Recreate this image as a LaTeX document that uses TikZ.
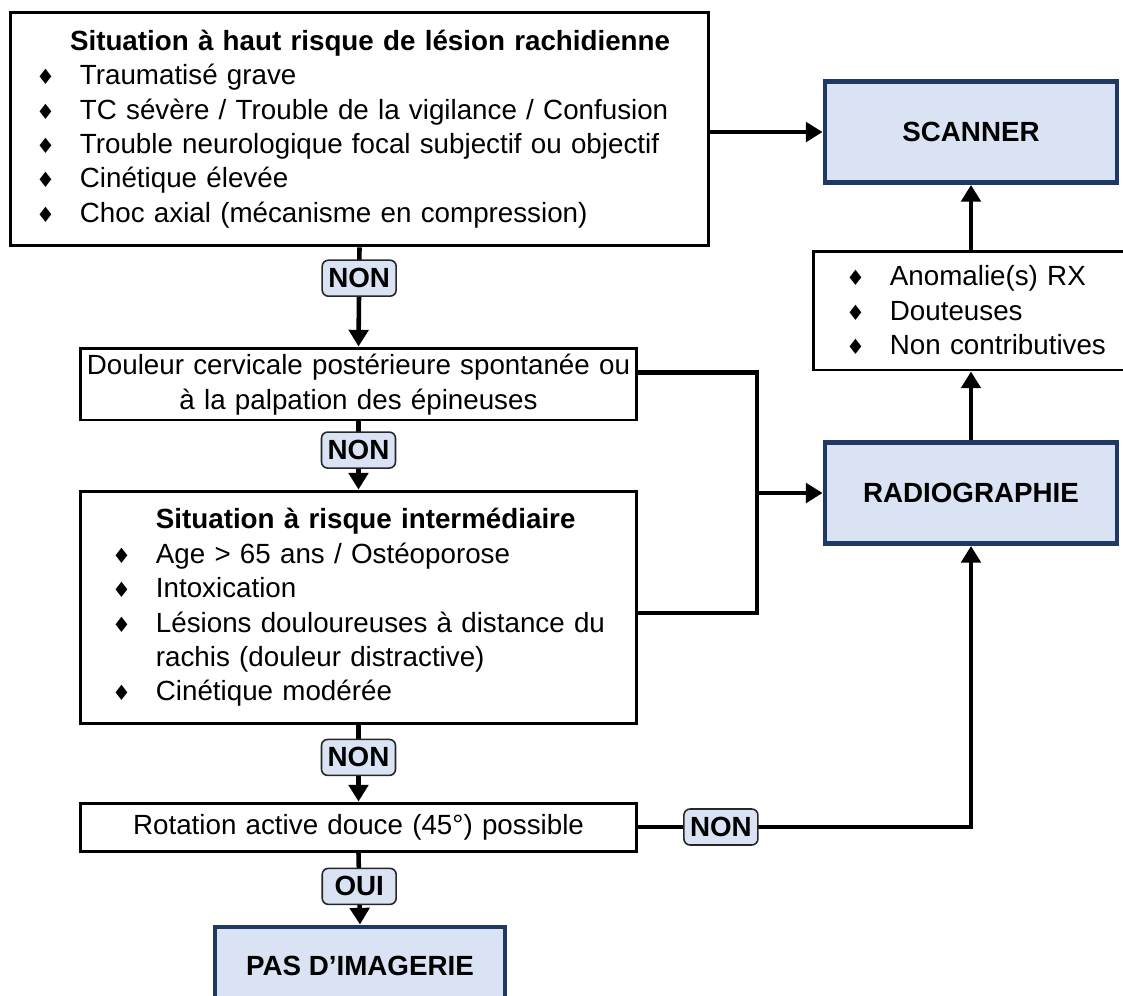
\documentclass[tikz,border=0pt]{standalone}
\usepackage{fontspec}
\setmainfont{Liberation Sans}
\newfontfamily\puces{DejaVu Sans}
\usetikzlibrary{arrows.meta,positioning}

\definecolor{bleuclair}{HTML}{DAE3F3}
\definecolor{bleufonce}{HTML}{203864}

\newcommand{\texte}{\fontsize{15.8}{19.6}\selectfont}
\newcommand{\puce}{\makebox[1.58em][l]{{\puces\fontsize{12}{12}\selectfont ♦}}}

\begin{document}
\begin{tikzpicture}[x=0.02cm, y=-0.02cm,
  every node/.style={font=\texte},
  boite/.style={draw, line width=1.7pt, fill=white, inner xsep=0pt, inner ysep=0pt},
  bleue/.style={draw=bleufonce, line width=2.8pt, fill=bleuclair, font=\texte\bfseries,
    minimum width=5.84cm, minimum height=2.02cm},
  etiq/.style={draw=black!85, line width=0.9pt, fill=bleuclair, rounded corners=3.5pt,
    font=\texte\bfseries, minimum width=1.48cm, minimum height=0.72cm, inner sep=0pt},
  fleche/.style={line width=2.6pt, -{Triangle[length=9.5pt,width=11pt]}},
  ligne/.style={line width=2.6pt}]

  \useasboundingbox (0,0) rectangle (1123,995);
  \clip (0,0) rectangle (1123,995);

  %% Left column
  \node[boite, minimum width=13.98cm, minimum height=4.68cm, text width=13.98cm, align=left] (haut) at (359.5,129)
    {\leftskip=0.52cm\hspace*{0.68cm}\textbf{Situation à haut risque de lésion rachidienne}\\
     \puce Traumatisé grave\\
     \puce TC sévère / Trouble de la vigilance / Confusion\\
     \puce Trouble neurologique focal subjectif ou objectif\\
     \puce Cinétique élevée\\
     \puce Choc axial (mécanisme en compression)\par};

  \node[boite, minimum width=11.14cm, minimum height=1.44cm, text width=11.14cm, align=center] (douleur) at (358.5,384)
    {Douleur cervicale postérieure spontanée ou\\ à la palpation des épineuses\\[-17pt]\mbox{}};

  \node[boite, minimum width=11.14cm, minimum height=4.66cm, text width=11.14cm, align=left] (inter) at (358.5,607.5)
    {\leftskip=0.64cm\hspace*{1.58em}\textbf{Situation à risque intermédiaire}\\
     \puce Age > 65 ans / Ostéoporose\\
     \puce Intoxication\\
     \mbox{\puce Lésions douloureuses à distance du}\\
     \hspace*{1.58em}rachis (douleur distractive)\\
     \puce Cinétique modérée\par};

  \node[boite, minimum width=11.14cm, minimum height=0.96cm, text width=11.14cm, align=center] (rotation) at (358.5,827)
    {Rotation active douce (45°) possible};

  \node[bleue, minimum width=5.8cm, minimum height=1.56cm] (pas) at (360,966) {PAS D’IMAGERIE};

  %% Right column
  \node[bleue] (scanner) at (971,132) {SCANNER};

  \node[boite, minimum width=6.44cm, minimum height=2.38cm, text width=6.44cm, align=left] (anomalies) at (974,310.5)
    {\leftskip=0.66cm
     \puce Anomalie(s) RX\\
     \puce Douteuses\\
     \puce Non contributives\par};

  \node[bleue] (radio) at (971,493) {RADIOGRAPHIE};

  \coordinate (jonction) at (757,493);

  %% Connectors
  \draw[fleche] (haut.east |- scanner.west) -- (scanner.west);
  \draw[fleche] (haut.south) -- node[etiq, pos=0.31] (non1) {NON} (douleur.north);
  \draw[fleche] (douleur.south) -- node[etiq, pos=0.42] (non2) {NON} (inter.north);
  \draw[fleche] (inter.south) -- node[etiq, pos=0.42] (non3) {NON} (rotation.north);
  \draw[fleche] (rotation.south) -- node[etiq, pos=0.47] (oui) {OUI} (pas.north);

  \draw[ligne] ([yshift=0.23cm]douleur.east) -| (jonction) |- ([yshift=-0.11cm]inter.east);
  \draw[fleche] (jonction) -- (radio.west);

  \draw[fleche] (rotation.east) -| node[etiq, pos=0.124] (non4) {NON} (radio.south);
  \draw[fleche] (radio.north) -- (radio.north |- anomalies.south);
  \draw[fleche] (scanner.south |- anomalies.north) -- (scanner.south);

\end{tikzpicture}
\end{document}
